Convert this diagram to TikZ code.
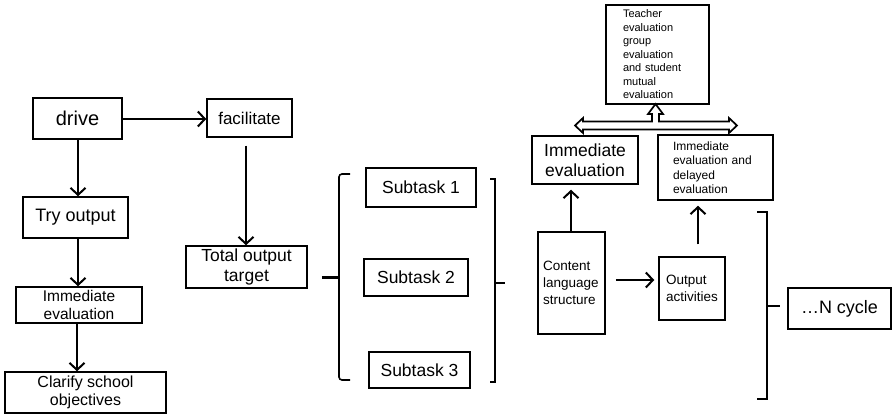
\documentclass[tikz,border=0pt]{standalone}
\usepackage{fontspec}
\setmainfont{Liberation Sans}
\usetikzlibrary{arrows.meta,calc}
\begin{document}
\begin{tikzpicture}[x=1pt,y=-1pt,
  box/.style={draw, line width=1.5pt, inner sep=0pt, align=center},
  lbox/.style={draw, line width=1.5pt, align=left, inner ysep=0pt},
  fs/.style 2 args={font=\fontsize{#1}{#2}\selectfont},
  arr/.style={line width=2.2pt, -{Straight Barb[length=7pt,width=15pt,line width=2pt]}},
  brk/.style={line width=1.6pt},
  hollow/.style={line width=1.7pt, line join=miter}]
\useasboundingbox (0,0) rectangle (892,417);

% left column
\node[box, minimum width=89pt, minimum height=41pt, fs={20}{24}] (drive) at (77.5,118.5) {drive};
\node[box, minimum width=85pt, minimum height=38pt, fs={17}{20}] (facil) at (249.5,118) {facilitate};
\node[box, minimum width=105pt, minimum height=41pt, fs={18}{21}] (try) at (75.5,217.5) {Try output};
\node[box, minimum width=126pt, minimum height=36pt, fs={15.5}{17.5}] (imm1) at (79,305) {Immediate\\evaluation};
\node[box, minimum width=161pt, minimum height=41pt, fs={16}{18.5}] (clar) at (85.5,392.5) {Clarify school\\objectives};
\node[box, minimum width=121pt, minimum height=42pt, fs={17.5}{20}] (total) at (246.5,267) {Total output\\target};

% subtasks
\node[box, minimum width=110pt, minimum height=39pt, fs={17.5}{20}] (sub1) at (421,187.5) {Subtask 1};
\node[box, minimum width=104pt, minimum height=37pt, fs={17.5}{20}] (sub2) at (416,277.5) {Subtask 2};
\node[box, minimum width=101pt, minimum height=36pt, fs={17.5}{20}] (sub3) at (419.5,370) {Subtask 3};

% right part
\node[lbox, text width=69pt, inner xsep=17pt, minimum height=99pt, fs={11}{13.5}] (teach) at (657.5,54.5)
  {Teacher\\evaluation\\group\\evaluation\\and student\\mutual\\evaluation};
\node[box, minimum width=106pt, minimum height=48pt, fs={17.5}{20}] (imm2) at (585,160) {Immediate\\evaluation};
\node[lbox, text width=85pt, inner xsep=15pt, minimum height=65pt, fs={12}{14.5}] (immdel) at (715.5,167.5)
  {Immediate\\evaluation and\\delayed\\evaluation};
\node[lbox, text width=57pt, inner xsep=5pt, minimum height=102pt, fs={13.5}{17}] (cont) at (571.5,283)
  {Content\\language\\structure};
\node[lbox, text width=52pt, inner xsep=7pt, minimum height=63pt, fs={13.5}{17}] (outp) at (692,288.5)
  {Output\\activities};
\node[box, minimum width=103pt, minimum height=41pt, fs={18}{21}] (ncyc) at (839.5,308.5) {\ldots N cycle};

% left arrows
\draw[arr] ($(drive.east)+(0,0.5)$) -- ($(facil.west |- drive.east)+(0,0.5)$);
\draw[arr] ($(drive.south)+(0.5,0)$) -- ($(drive.south |- try.north)+(0.5,0)$);
\draw[arr] ($(try.south)+(2.5,0)$) -- ($(try.south |- imm1.north)+(2.5,0)$);
\draw[arr] ($(imm1.south)+(-2,0)$) -- ($(imm1.south |- clar.north)+(-2,0)$);
\draw[arr] ($(facil.south)+(-3.5,8)$) -- ($(facil.south |- total.north)+(-3.5,0)$);

% brace and brackets
\coordinate (lbmid) at (339,277);
\draw[brk, rounded corners=3pt] (350,174) -- (339,174) -- (339,380) -- (350,380);
\draw[line width=3pt] ($(total.east |- lbmid)+(14,0)$) -- (lbmid);
\draw[brk] (490,179) -- (495,179) -- (495,382) -- (490,382);
\coordinate (rb1) at (495,283);
\draw[brk] (rb1) -- ++(10,0);
\draw[brk] (757,212) -- (767,212) -- (767,399) -- (757,399);
\coordinate (rb2) at (767,306);
\draw[brk] (rb2) -- ++(13,0);

% right arrows
\coordinate (cu) at ($(cont.north)+(-0.5,0)$);
\draw[arr, shorten >=5pt] (cu) -- (cu |- imm2.south);
\draw[arr] ($(cont.east)+(10,-3)$) -- ($(outp.west |- cont.east)+(-4,-3)$);
\draw[arr] ($(outp.north)+(6,-12)$) -- ($(outp.north |- immdel.south)+(6,5)$);

% hollow double arrow (T shape)
\draw[hollow] (575,125.5) -- (583,118) -- (583,121.5) -- (652,121.5) -- (652,114) -- (648,114)
  -- (655.5,104) -- (663,114) -- (659,114) -- (659,121.5) -- (729,121.5) -- (729,118)
  -- (737,125.5) -- (729,133) -- (729,129.5) -- (583,129.5) -- (583,133) -- cycle;
\end{tikzpicture}
\end{document}
